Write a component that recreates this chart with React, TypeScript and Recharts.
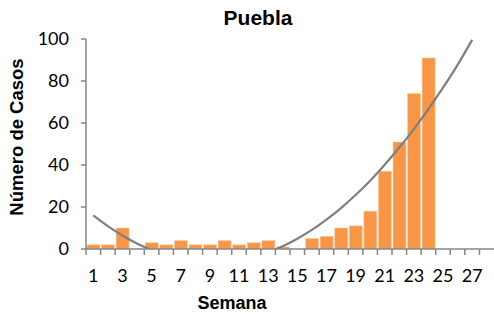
import React from "react";
import {ComposedChart, Bar, Line, XAxis, YAxis} from "recharts";

// semanas epidemiológicas
const semanas = [
  1, 2, 3, 4, 5, 6, 7, 8, 9, 10, 11, 12, 13, 14, 15, 16, 17, 18, 19, 20, 21, 22, 23, 24, 25, 26, 27, 28,
];
const casos = [
  2, 2, 10, 0, 3, 2, 4, 2, 2, 4, 2, 3, 4, 1, 0, 5, 6, 10, 11, 18, 37, 51, 74, 91, null, null, null, null,
];
const tendencia = [
  16, 10.9, 6.4, 2.6, -0.5, -2.9, -4.7, -5.9, -6.3, -6.1, -5.3, -3.7, -1.5, 1.3, 4.9, 9.1, 14, 19.5, 25.7,
  32.5, 40.1, 48.3, 57.1, 66.6, 76.8, 87.7, 99.6, null,
];
const yTicks = [0, 20, 40, 60, 80, 100];

const data = semanas.map((s, i) => ({semana: s, casos: casos[i], tendencia: tendencia[i]}));

const AXIS = "#868686";
const BAND = 408 / semanas.length;

function SemanaTick(props: any) {
  const {x, y, payload} = props;
  const left = x - BAND / 2;
  return (
    <g>
      <line x1={left} y1={y} x2={left} y2={y + 6} stroke={AXIS} strokeWidth={1.5} />
      {payload.value % 2 === 1 && (
        <text x={x} y={y + 33} textAnchor="middle" fontSize={18} fill="#000" fontFamily="Lato, sans-serif">
          {payload.value}
        </text>
      )}
    </g>
  );
}

export default function App() {
  return (
    <div style={{position: "absolute", left: 0, top: 0, width: 494, height: 314, background: "#fff"}}>
      <div
        style={{
          position: "absolute",
          left: 208,
          width: 100,
          top: 6,
          textAlign: "center",
          fontFamily: "Liberation Sans, Arial, sans-serif",
          fontWeight: 700,
          fontSize: 21,
        }}
      >
        Puebla
      </div>
      <div
        style={{
          position: "absolute",
          left: 17,
          top: 137,
          transform: "translate(-50%, -50%) rotate(-90deg)",
          whiteSpace: "nowrap",
          fontFamily: "Liberation Sans, Arial, sans-serif",
          fontWeight: 700,
          fontSize: 18.5,
        }}
      >
        Número de Casos
      </div>
      <div
        style={{
          position: "absolute",
          left: 182,
          width: 100,
          top: 293,
          textAlign: "center",
          fontFamily: "Liberation Sans, Arial, sans-serif",
          fontWeight: 700,
          fontSize: 18,
        }}
      >
        Semana
      </div>
      <ComposedChart
        width={494}
        height={314}
        data={data}
        margin={{top: 39, right: 0, left: 0, bottom: 0}}
        barCategoryGap={1}
      >
        <XAxis
          dataKey="semana"
          height={65}
          interval={0}
          tickLine={false}
          tickSize={0}
          tickMargin={0}
          axisLine={{stroke: AXIS, strokeWidth: 1.5}}
          tick={<SemanaTick />}
        />
        <YAxis
          width={86}
          domain={[0, 100]}
          ticks={yTicks}
          allowDataOverflow
          tickSize={5}
          tickMargin={12}
          axisLine={{stroke: AXIS, strokeWidth: 1.5}}
          tickLine={{stroke: AXIS, strokeWidth: 1.5}}
          tick={{fill: "#000", fontSize: 18, fontFamily: "Lato, sans-serif"}}
        />
        <Bar dataKey="casos" fill="#F79646" stroke="#FBC9A3" strokeWidth={0.6} isAnimationActive={false} />
        <Line
          dataKey="tendencia"
          type="monotone"
          stroke="#7F7F7F"
          strokeWidth={2.2}
          dot={false}
          isAnimationActive={false}
        />
      </ComposedChart>
    </div>
  );
}
